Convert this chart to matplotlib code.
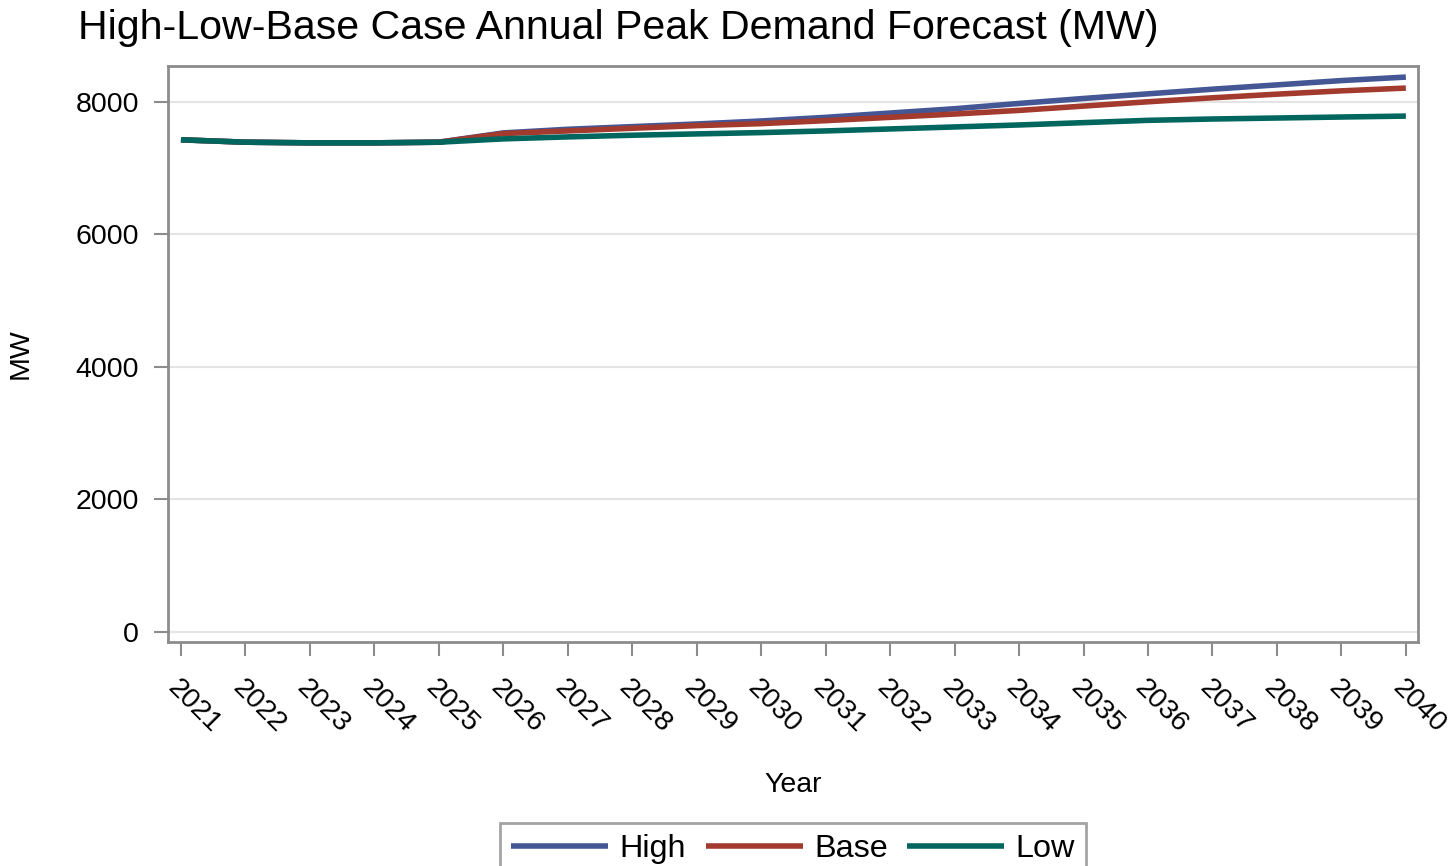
import matplotlib
matplotlib.use("Agg")
import matplotlib.pyplot as plt

years = list(range(2021, 2041))
high = [7426, 7390, 7380, 7380, 7390, 7530, 7585, 7625, 7665, 7710,
        7765, 7830, 7895, 7975, 8050, 8120, 8190, 8255, 8320, 8373]
base = [7426, 7390, 7380, 7380, 7390, 7520, 7560, 7600, 7640, 7670,
        7715, 7765, 7815, 7870, 7935, 8000, 8060, 8115, 8165, 8207]
low = [7426, 7390, 7380, 7380, 7390, 7440, 7470, 7495, 7515, 7535,
       7560, 7590, 7620, 7650, 7685, 7720, 7740, 7755, 7770, 7784]

series = [("High", high, "#445694"), ("Base", base, "#A23A2E"), ("Low", low, "#01665E")]

plt.rcParams['font.family'] = ['Liberation Sans', 'DejaVu Sans']
frame_col = "#8c8c8c"

fig = plt.figure(figsize=(14.5, 8.66), dpi=100)
ax = fig.add_axes([0.1159, 0.259, 0.8621, 0.665])

for name, vals, col in series:
    ax.plot(years, vals, color=col, lw=4, label=name, solid_capstyle='butt')

ax.set_xlim(2020.8, 2040.19)
ax.set_ylim(-151, 8543)
ax.set_xticks(years)
ax.set_xticklabels([str(y) for y in years], rotation=-45, ha='left', va='top',
                   rotation_mode='anchor', fontsize=20.5)
ax.set_yticks([0, 2000, 4000, 6000, 8000])
ax.tick_params(axis='y', labelsize=20.5, pad=11)
ax.tick_params(axis='x', pad=14)
ax.tick_params(colors=frame_col, labelcolor='black', length=10, width=1.5)
ax.grid(axis='y', color='#e4e4e4', lw=1.5)
ax.set_axisbelow(True)
for sp in ax.spines.values():
    sp.set_color(frame_col)
    sp.set_linewidth(2)

ax.set_xlabel("Year", fontsize=20.5, labelpad=24)
ax.set_ylabel("MW", fontsize=20.5, labelpad=30)

fig.text(0.054, 0.968, "High-Low-Base Case Annual Peak Demand Forecast (MW)",
         fontsize=29.6, va='center', ha='left')

leg = fig.legend(loc='lower center', bbox_to_anchor=(0.547, -0.03), ncol=3,
                 fontsize=23.3, frameon=True, fancybox=False, handlelength=3.0,
                 handletextpad=0.35, columnspacing=0.6, borderpad=0.35)
leg.get_frame().set_edgecolor(frame_col)
leg.get_frame().set_linewidth(2)

fig.savefig("out.png", dpi=100)
